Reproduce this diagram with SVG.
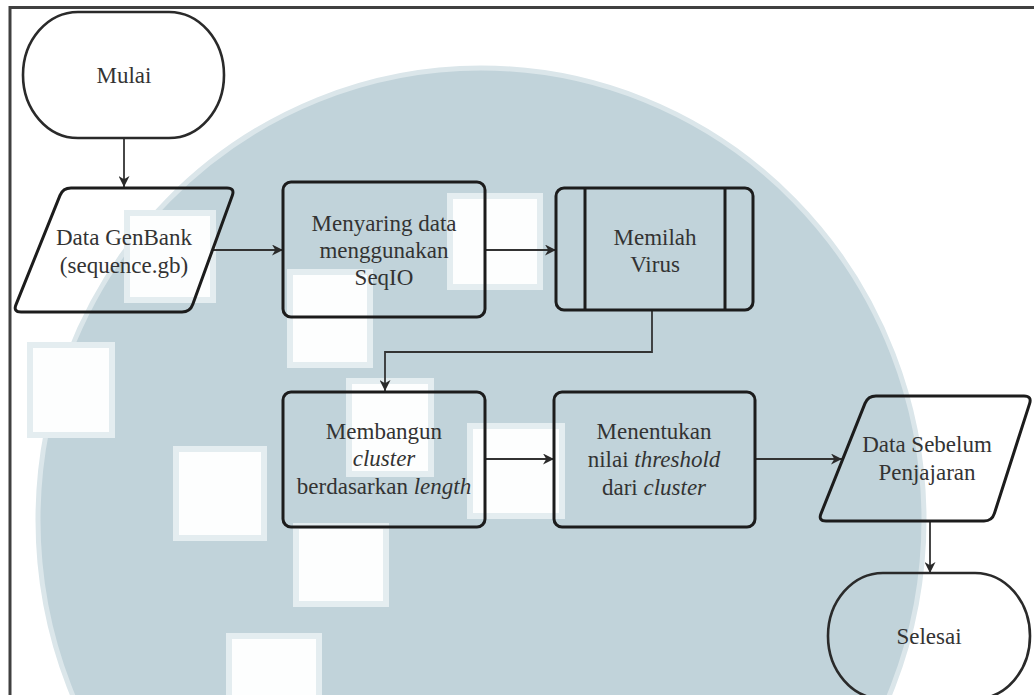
<svg xmlns="http://www.w3.org/2000/svg" width="1034" height="695" viewBox="0 0 1034 695">
  <defs>
    <marker id="arrow" viewBox="0 0 10 10" refX="10" refY="5" markerWidth="11" markerHeight="11" markerUnits="userSpaceOnUse" orient="auto">
      <path d="M0,0 L10,5 L0,10 L3,5 z" fill="#2a2a2a"/>
    </marker>
  </defs>

  <rect width="1034" height="695" fill="#ffffff"/>

  <!-- background emblem -->
  <g id="emblem">
    <ellipse cx="481" cy="520" rx="443" ry="452" fill="#c1d3da" stroke="#dbe6ea" stroke-width="5"/>
    <g fill="#fdfefe" stroke="#e4edf0" stroke-width="6">
      <rect x="30" y="345" width="82" height="90"/>
      <rect x="290" y="272" width="80" height="93"/>
      <rect x="127" y="213" width="86" height="87"/>
      <rect x="176" y="449" width="88" height="89"/>
      <rect x="296" y="526" width="90" height="78"/>
      <rect x="229" y="636" width="90" height="70"/>
      <rect x="349" y="381" width="82" height="93"/>
      <rect x="470" y="426" width="92" height="90"/>
      <rect x="450" y="196" width="90" height="91"/>
    </g>
  </g>

  <!-- page frame -->
  <path d="M10,695 L10,7.5 L1034,7.5" fill="none" stroke="#404040" stroke-width="3"/>

  <g id="connectors" fill="none" stroke="#333333" stroke-width="1.8">
    <path d="M124,138 L124,187" marker-end="url(#arrow)"/>
    <path d="M213,250 L283,250" marker-end="url(#arrow)"/>
    <path d="M485,250 L556,250" marker-end="url(#arrow)"/>
    <path d="M652,310 L652,352 L385,352 L385,391" marker-end="url(#arrow)"/>
    <path d="M485,459 L554,459" marker-end="url(#arrow)"/>
    <path d="M755,459 L842,459" marker-end="url(#arrow)"/>
    <path d="M930,521 L930,573" marker-end="url(#arrow)"/>
  </g>

  <g id="mulai">
    <rect x="23" y="12" width="201" height="126" rx="55" ry="63" fill="none" stroke="#2a2a2a" stroke-width="2.6"/>
    <text x="124" y="83" font-family="Liberation Serif" font-size="23px" fill="#333333" text-anchor="middle">Mulai</text>
  </g>

  <g id="data-genbank">
    <path d="M71,188 L227,188 Q235,188 232.3,195.5 L192.7,304.5 Q190,312 182,312 L21,312 Q13,312 16,304.6 L60,195.4 Q63,188 71,188 Z" fill="none" stroke="#1c1c1c" stroke-width="3"/>
    <text x="124" y="245" font-family="Liberation Serif" font-size="23px" fill="#333333" text-anchor="middle">Data GenBank</text>
    <text x="124" y="273" font-family="Liberation Serif" font-size="23px" fill="#333333" text-anchor="middle">(sequence.gb)</text>
  </g>

  <g id="menyaring">
    <rect x="283" y="182" width="202" height="135" rx="8" fill="none" stroke="#1c1c1c" stroke-width="3"/>
    <text x="384" y="231" font-family="Liberation Serif" font-size="23px" fill="#333333" text-anchor="middle">Menyaring data</text>
    <text x="384" y="258" font-family="Liberation Serif" font-size="23px" fill="#333333" text-anchor="middle">menggunakan</text>
    <text x="384" y="285" font-family="Liberation Serif" font-size="23px" fill="#333333" text-anchor="middle">SeqIO</text>
  </g>

  <g id="memilah">
    <g fill="none" stroke="#1c1c1c" stroke-width="3">
      <rect x="556" y="188" width="197" height="122" rx="8"/>
      <line x1="585" y1="188" x2="585" y2="310"/>
      <line x1="725" y1="188" x2="725" y2="310"/>
    </g>
    <text x="655" y="245" font-family="Liberation Serif" font-size="23px" fill="#333333" text-anchor="middle">Memilah</text>
    <text x="655" y="272" font-family="Liberation Serif" font-size="23px" fill="#333333" text-anchor="middle">Virus</text>
  </g>

  <g id="membangun">
    <rect x="283" y="392" width="202" height="135" rx="8" fill="none" stroke="#1c1c1c" stroke-width="3"/>
    <text x="384" y="439" font-family="Liberation Serif" font-size="23px" fill="#333333" text-anchor="middle">Membangun</text>
    <text x="384" y="466" font-family="Liberation Serif" font-size="23px" fill="#333333" text-anchor="middle" font-style="italic">cluster</text>
    <text x="384" y="494" font-family="Liberation Serif" font-size="23px" fill="#333333" text-anchor="middle">berdasarkan <tspan font-style="italic">length</tspan></text>
  </g>

  <g id="menentukan">
    <rect x="554" y="392" width="201" height="135" rx="8" fill="none" stroke="#1c1c1c" stroke-width="3"/>
    <text x="654" y="439" font-family="Liberation Serif" font-size="23px" fill="#333333" text-anchor="middle">Menentukan</text>
    <text x="654" y="467" font-family="Liberation Serif" font-size="23px" fill="#333333" text-anchor="middle">nilai <tspan font-style="italic">threshold</tspan></text>
    <text x="654" y="495" font-family="Liberation Serif" font-size="23px" fill="#333333" text-anchor="middle">dari <tspan font-style="italic">cluster</tspan></text>
  </g>

  <g id="data-sebelum">
    <path d="M876,396 L1024,396 Q1032,396 1029.6,403.6 L994.4,513.4 Q992,521 984,521 L826,521 Q818,521 821,513.6 L865,403.4 Q868,396 876,396 Z" fill="none" stroke="#1c1c1c" stroke-width="3"/>
    <text x="927" y="452" font-family="Liberation Serif" font-size="23px" fill="#333333" text-anchor="middle">Data Sebelum</text>
    <text x="927" y="480" font-family="Liberation Serif" font-size="23px" fill="#333333" text-anchor="middle">Penjajaran</text>
  </g>

  <g id="selesai">
    <rect x="828" y="573" width="202" height="126" rx="55" ry="63" fill="none" stroke="#2a2a2a" stroke-width="2.6"/>
    <text x="929" y="644" font-family="Liberation Serif" font-size="23px" fill="#333333" text-anchor="middle">Selesai</text>
  </g>
</svg>
